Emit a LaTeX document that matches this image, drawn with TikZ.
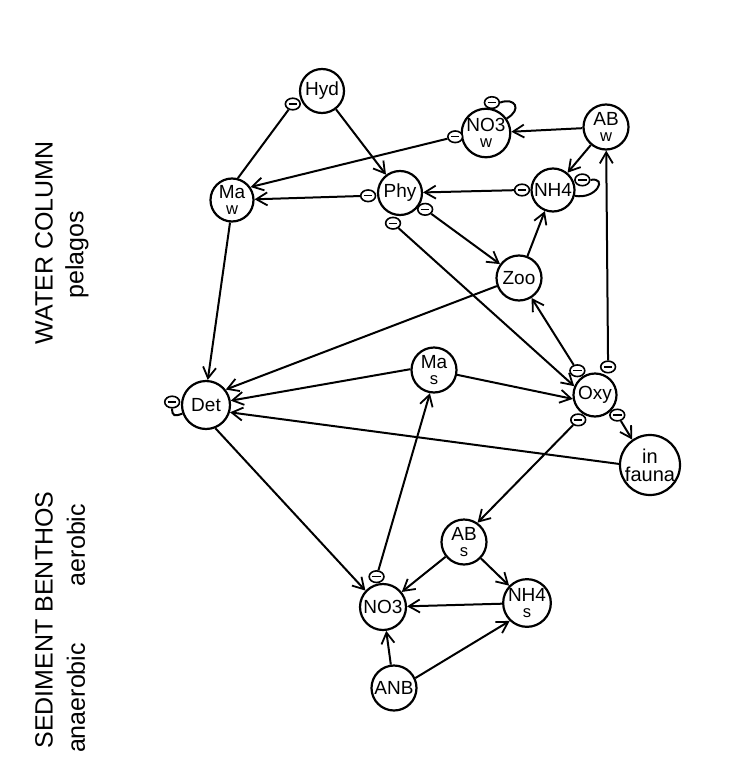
\documentclass[tikz,border=0pt]{standalone}
\usepackage{fontspec}
\setmainfont{Liberation Sans}
\usetikzlibrary{arrows.meta,calc,shapes.geometric}
\begin{document}
\begin{tikzpicture}[x=0.5pt,y=-0.5pt,
  var/.style={draw, circle, line width=1.1pt, inner sep=0pt, font=\fontsize{9.5}{7.8}\selectfont, align=center},
  neg/.style={draw, ellipse, line width=0.8pt, fill=white, minimum width=7.4pt, minimum height=5.8pt, inner sep=0pt,
     path picture={\draw[line width=0.7pt] ([xshift=1.6pt]path picture bounding box.west) -- ([xshift=-1.6pt]path picture bounding box.east);}},
  link/.style={line width=1pt},
  arr/.style={line width=1pt, -{Straight Barb[length=5.5pt,width=6.5pt,line width=0.9pt]}},
  lab/.style={rotate=90, font=\fontsize{12.5}{14}\selectfont, inner sep=0pt}
]
\useasboundingbox (0,0) rectangle (738,771);
\newcommand{\sml}[1]{{\fontsize{8.3}{7.8}\selectfont #1}}

% labels
\node[lab] (lwc) at (44,243) {WATER COLUMN};
\node[lab] (lpel) at (77,255) {pelagos};
\node[lab] (lsed) at (44,620) {SEDIMENT BENTHOS};
\node[lab] (laer) at (76,545) {aerobic};
\node[lab] (lana) at (76,698) {anaerobic};

% variables
\node[var, minimum size=22pt] (Hyd) at (322,91) {Hyd};
\node[var, minimum size=21pt] (NO3w) at (486,133) {NO3\\\sml{w}};
\node[var, minimum size=22.5pt] (ABw) at (606,127) {AB\\\sml{w}};
\node[var, minimum size=21.5pt] (Maw) at (232,200) {Ma\\\sml{w}};
\node[var, minimum size=22pt] (Phy) at (400,193) {Phy};
\node[var, minimum size=21.5pt] (NH4) at (553,190) {NH4};
\node[var, minimum size=22.5pt] (Zoo) at (519,278) {Zoo};
\node[var, minimum size=22.5pt] (Mas) at (434,370) {Ma\\\sml{s}};
\node[var, minimum size=24pt] (Det) at (206,405) {Det};
\node[var, minimum size=21.5pt] (Oxy) at (595,395) {Oxy};
\node[var, minimum size=30pt, font=\fontsize{10}{9}\selectfont] (Inf) at (650,465) {in\\fauna};
\node[var, minimum size=22.5pt] (ABs) at (464,542) {AB\\\sml{s}};
\node[var, minimum size=23pt] (NO3s) at (383,607) {NO3};
\node[var, minimum size=22.5pt] (NH4s) at (527,603) {NH4\\\sml{s}};
\node[var, minimum size=22.5pt] (ANB) at (394,688) {ANB};

% negative markers
\node[neg] (mHyd) at ($(Hyd)+(204:16pt)$) {};
\node[neg] (mNO3w) at ($(NO3w)+(187:15.5pt)$) {};
\node[neg] (mPhyMaw) at ($(Phy)+(185:16pt)$) {};
\node[neg] (mNH4) at ($(NH4)+(180:15.5pt)$) {};
\node[neg] (mPhyZoo) at ($(Phy)+(-33:15pt)$) {};
\node[neg] (mPhyOxy) at ($(Phy)+(257:15.5pt)$) {};
\node[neg] (mOxyZoo) at ($(Oxy)+(126:15pt)$) {};
\node[neg] (mOxyAB) at ($(Oxy)+(65:15.5pt)$) {};
\node[neg] (mOxyInf) at ($(Oxy)+(-42:15pt)$) {};
\node[neg] (mOxyABs) at ($(Oxy)+(236:15pt)$) {};
\node[neg] (mNO3s) at ($(NO3s)+(102:15.5pt)$) {};
\node[neg] (mL1) at ($(NO3w)+(79:15.5pt)$) {};
\node[neg] (mL2) at ($(NH4)+(19:15.5pt)$) {};
\node[neg] (mL3) at ($(Det)+(175:17pt)$) {};

% connectors
\draw[link] (mHyd) -- (Maw.75);
\draw[arr] (Hyd) -- (Phy);
\draw[arr] (mNO3w) -- (Maw.35);
\draw[arr] (mPhyMaw) -- (Maw);
\draw[arr] (ABw) -- (NO3w);
\draw[arr] (ABw) -- (NH4);
\draw[arr] (mNH4) -- (Phy);
\draw[arr] (mPhyZoo) -- (Zoo);
\draw[arr] (mPhyOxy) -- (Oxy.157);
\draw[arr] (Zoo) -- (NH4);
\draw[arr] (mOxyZoo) -- (Zoo);
\draw[arr] (Zoo.200) -- (Det.38);
\draw[arr] (Maw.-95) -- (Det.86);
\draw[arr] (Mas.178) -- (Det.10);
\draw[arr] (Inf.178) -- (Det.-17);
\draw[arr] (Mas) -- (Oxy.190);
\draw[arr] (mOxyAB) -- (ABw);
\draw[arr] (mOxyInf) -- (Inf.125);
\draw[arr] (mOxyABs) -- (ABs.55);
\draw[arr] (Det.-68) -- (NO3s.137);
\draw[arr] (mNO3s) -- (Mas.-100);
\draw[arr] (ABs) -- (NO3s);
\draw[arr] (ABs) -- (NH4s);
\draw[arr] (NH4s) -- (NO3s);
\draw[arr] (ANB) -- (NO3s);
\draw[arr] (ANB.25) -- (NH4s.226);

% self loops
\draw[link] (mL1.east) .. controls +(20:8pt) and +(30:9pt) .. (NO3w.35);
\draw[link] (mL2.east) .. controls +(10:9pt) and +(-10:11pt) .. (NH4.-15);
\draw[link] (mL3.south) .. controls +(-90:4pt) and +(200:4pt) .. (Det.200);
\end{tikzpicture}
\end{document}
